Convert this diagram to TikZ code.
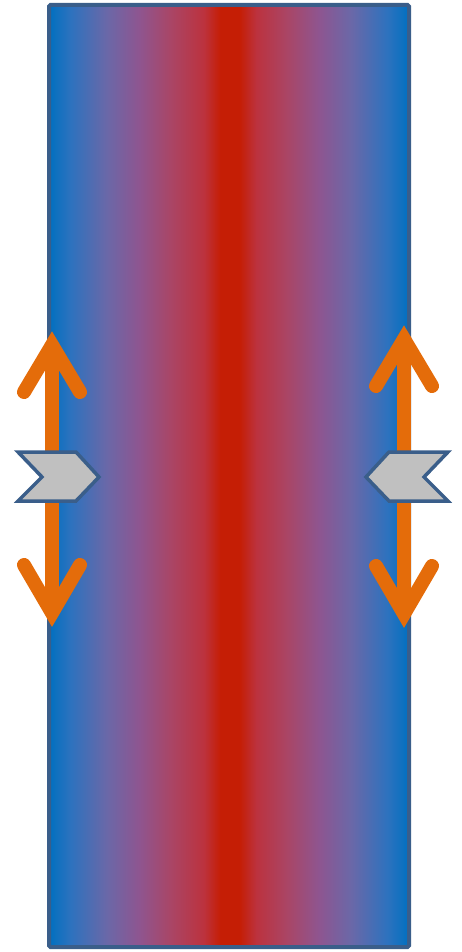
\documentclass[tikz,border=0pt]{standalone}
\usepackage{xcolor}
\usepackage{tikz}
\usetikzlibrary{calc, positioning}

\definecolor{tubeblue}{RGB}{0,112,192}
\definecolor{tubemidA}{RGB}{45,114,190}
\definecolor{tubemidB}{RGB}{106,104,168}
\definecolor{tubemidC}{RGB}{142,85,144}
\definecolor{tubemidD}{RGB}{170,69,101}
\definecolor{tubemidE}{RGB}{188,50,62}
\definecolor{tubered}{RGB}{197,30,5}
\definecolor{tubeedge}{RGB}{58,94,138}
\definecolor{arroworange}{RGB}{228,108,10}
\definecolor{chevgray}{RGB}{192,192,192}

\pgfdeclarehorizontalshading{tube}{100bp}{color(0bp)=(tubeblue); color(25bp)=(tubeblue);
  color(28bp)=(tubemidA); color(33bp)=(tubemidB); color(37.5bp)=(tubemidC);
  color(42bp)=(tubemidD); color(46.5bp)=(tubemidE); color(48.8bp)=(tubered);
  color(51.5bp)=(tubered); color(53.8bp)=(tubemidE); color(58bp)=(tubemidD);
  color(62.5bp)=(tubemidC); color(67bp)=(tubemidB); color(72bp)=(tubemidA);
  color(75bp)=(tubeblue); color(100bp)=(tubeblue)}

\begin{document}
\begin{tikzpicture}[x=1pt, y=-1pt,
    shaft/.style={draw=arroworange, line width=14pt},
    barb/.style={draw=arroworange, line width=14pt, line cap=round, line join=miter},
    chevron/.style={fill=chevgray, draw=tubeedge, line width=3.5pt, line join=miter}]
    \useasboundingbox (0,0) rectangle (461,952);

    % Rohr mit Farbverlauf
    \shade[shading=tube] (49,5) rectangle (409,947);
    \draw[tubeedge, line width=4pt, rounded corners=1.5pt] (49,5) rectangle (409,947);

    % Pfeile links und rechts
    \coordinate (ltop) at (52,345);
    \coordinate (lbot) at (52,613);
    \coordinate (rtop) at (404,339);
    \coordinate (rbot) at (404,614);
    \draw[shaft] (ltop) -- (lbot);
    \draw[shaft] (rtop) -- (rbot);
    \foreach \c in {ltop, rtop}
        \draw[barb] ($(\c)+(-28,47)$) -- (\c) -- ($(\c)+(28,47)$);
    \foreach \c in {lbot, rbot}
        \draw[barb] ($(\c)+(-28,-48)$) -- (\c) -- ($(\c)+(28,-48)$);

    % Keile
    \draw[chevron] (18,452) -- (76,452) -- (99,477) -- (76,501) -- (18,501) -- (42,477) -- cycle;
    \draw[chevron] (448,452) -- (389,452) -- (366,477) -- (389,501) -- (448,501) -- (424,477) -- cycle;
\end{tikzpicture}
\end{document}
